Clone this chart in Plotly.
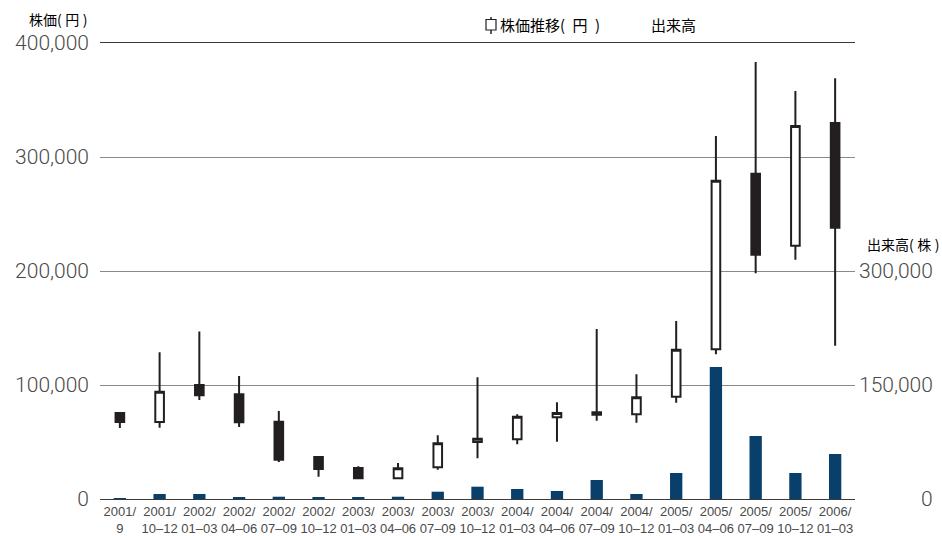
import plotly.graph_objects as go

# Quarterly periods (first one is a single month)
periods = ["2001/<br>9", "2001/<br>10–12", "2002/<br>01–03", "2002/<br>04–06", "2002/<br>07–09",
           "2002/<br>10–12", "2003/<br>01–03", "2003/<br>04–06", "2003/<br>07–09", "2003/<br>10–12",
           "2004/<br>01–03", "2004/<br>04–06", "2004/<br>07–09", "2004/<br>10–12", "2005/<br>01–03",
           "2005/<br>04–06", "2005/<br>07–09", "2005/<br>10–12", "2006/<br>01–03"]

# Share price (yen)
open_ = [75500, 67500, 100000, 91800, 67800, 36800, 27200, 18100, 27800, 50000,
         52400, 71700, 76000, 74300, 89700, 131300, 285400, 222200, 329800]
high = [75500, 128700, 147000, 107900, 77200, 36800, 28700, 31600, 55900, 106800,
        74300, 84800, 149100, 109400, 156100, 318400, 383300, 357900, 369000]
low = [62300, 62500, 86800, 63200, 32500, 19600, 18000, 18100, 25700, 35700,
       48000, 50300, 68700, 66900, 84500, 126900, 198000, 209900, 134500]
close = [67500, 94100, 91000, 67300, 34500, 26300, 18100, 26900, 48900, 52900,
         72200, 75400, 74000, 89200, 131000, 279200, 214300, 327200, 238000]

# Trading volume (shares)
volume = [800, 6600, 6600, 1800, 3000, 1800, 1800, 3000, 9600, 16200,
          13200, 10500, 25000, 6600, 34200, 173700, 82900, 34200, 59200]

price_ticks = [0, 100000, 200000, 300000, 400000]
volume_ticks = [0, 150000, 300000]

INK = "#231f20"
NAVY = "#083f6b"
LABEL = "#4a4a4a"
CJK = "Noto Sans CJK JP"
NUM = "Roboto, Liberation Sans"

fig = go.Figure()

fig.add_trace(go.Bar(
    x=periods, y=volume, yaxis="y2", width=0.31,
    marker=dict(color=NAVY, line=dict(width=0)),
    name="出来高", showlegend=False, hoverinfo="skip",
))

fig.add_trace(go.Candlestick(
    x=periods, open=open_, high=high, low=low, close=close,
    increasing=dict(fillcolor="white", line=dict(color=INK, width=2)),
    decreasing=dict(fillcolor=INK, line=dict(color=INK, width=2)),
    whiskerwidth=0, name="株価推移( 円 )", showlegend=False,
))

L, R, T, B = 100, 87, 43, 37
W, H = 942, 536
pw, ph = W - L - R, H - T - B


def px_x(p):
    return (p - L) / pw


def px_y(p):
    return (H - B - p) / ph


fig.update_layout(
    width=W, height=H,
    margin=dict(l=L, r=R, t=T, b=B, autoexpand=False),
    paper_bgcolor="white", plot_bgcolor="white",
    boxgap=0.69,
    xaxis=dict(
        type="category", range=[-0.5, len(periods) - 0.5],
        rangeslider=dict(visible=False),
        showgrid=False, showline=True, mirror=True,
        linecolor="#3a3a3a", linewidth=1, ticks="",
        tickfont=dict(family="Liberation Sans Narrow, Liberation Sans", size=13, color=LABEL),
        automargin=False,
    ),
    yaxis=dict(
        range=[0, 400000], tickvals=price_ticks,
        tickformat=",d", showgrid=True, gridcolor="#8a8a8a", gridwidth=1,
        zeroline=False, showline=False, ticks="",
        tickfont=dict(family=NUM, size=21, color=LABEL, weight=300),
        ticklabelstandoff=10, automargin=False,
    ),
    yaxis2=dict(
        range=[0, 600000], overlaying="y", side="right",
        showgrid=False, zeroline=False, showticklabels=False, ticks="",
    ),
    showlegend=False,
)

annotations = []
# Right-hand volume scale labels, right-aligned at the page edge
for v in volume_ticks:
    annotations.append(dict(
        x=px_x(935), xref="paper", y=v, yref="y2", xanchor="right", yanchor="middle",
        text=f"{v:,}", showarrow=False,
        font=dict(family=NUM, size=21, color=LABEL, weight=300),
    ))

# Axis titles
annotations.append(dict(x=px_x(89), y=px_y(19), xref="paper", yref="paper",
                        xanchor="right", yanchor="middle", text="株価(\u2005円\u2005)", showarrow=False,
                        font=dict(family=CJK, size=14, color="black")))
annotations.append(dict(x=px_x(941), y=px_y(244), xref="paper", yref="paper",
                        xanchor="right", yanchor="middle", text="出来高(\u2005株\u2005)", showarrow=False,
                        font=dict(family=CJK, size=14, color="black")))

# Legend texts
annotations.append(dict(x=px_x(498), y=px_y(25), xref="paper", yref="paper",
                        xanchor="left", yanchor="middle", text="株価推移(\u2002円\u2002)", showarrow=False,
                        font=dict(family=CJK, size=15, color="black")))
annotations.append(dict(x=px_x(649), y=px_y(25), xref="paper", yref="paper",
                        xanchor="left", yanchor="middle", text="出来高", showarrow=False,
                        font=dict(family=CJK, size=15, color="black")))

fig.update_layout(annotations=annotations)

# Legend candle glyph
fig.add_shape(type="line", xref="paper", yref="paper",
              x0=px_x(491), x1=px_x(491), y0=px_y(17), y1=px_y(34),
              line=dict(color=INK, width=1.5))
fig.add_shape(type="rect", xref="paper", yref="paper",
              x0=px_x(486), x1=px_x(496), y0=px_y(19.5), y1=px_y(30),
              fillcolor="white", line=dict(color=INK, width=1.2))

fig.write_html("out.html")
